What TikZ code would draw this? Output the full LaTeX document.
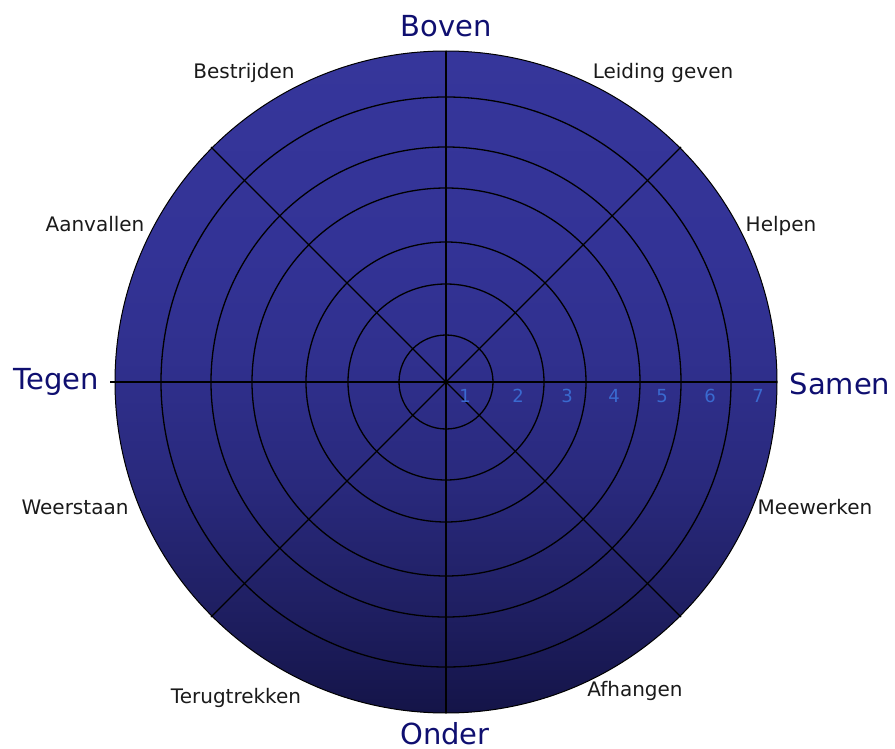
\documentclass[tikz,border=0pt]{standalone}
\usepackage{fontspec}
\setmainfont{DejaVu Sans}
\usetikzlibrary{calc}
\definecolor{navy}{HTML}{0F0F70}
\definecolor{lbl}{HTML}{1A1A1A}
\definecolor{numc}{HTML}{3A6AD0}
\definecolor{c0}{HTML}{141448}
\definecolor{c1}{HTML}{1F1F62}
\definecolor{c2}{HTML}{29297C}
\definecolor{c3}{HTML}{30308E}
\definecolor{c4}{HTML}{333396}
\definecolor{c5}{HTML}{36369B}
\pgfdeclareverticalshading{discshade}{100bp}{color(0bp)=(c0); color(25bp)=(c0); color(33bp)=(c1); color(42bp)=(c2); color(52bp)=(c3); color(60bp)=(c4); color(75bp)=(c5); color(100bp)=(c5)}
\tikzset{
  axislbl/.style={font=\fontsize{29}{34}\selectfont, text=navy, anchor=base, inner sep=0pt},
  sublbl/.style={font=\fontsize{20}{24}\selectfont, text=lbl, anchor=base, inner sep=0pt},
  numlbl/.style={font=\fontsize{18}{22}\selectfont, text=numc, anchor=base, inner sep=0pt},
  ring/.style={draw=black, line width=1.3pt},
  spoke/.style={draw=black, line width=1.2pt},
}
\begin{document}
\begin{tikzpicture}[x=1pt,y=-1pt]
\useasboundingbox (0,0) rectangle (895,749);
\coordinate (O) at (446,382);
\shade[shading=discshade] (O) circle[radius=331pt];
\foreach \r in {47,98,140,194,235,285}{
  \draw[ring] (O) circle[radius=\r pt];
}
\draw[black, line width=1pt] (O) circle[radius=331pt];
% spokes
\coordinate (L) at (110,382);
\coordinate (R) at (777,382);
\coordinate (T) at (446,51);
\coordinate (B) at (446,713);
\coordinate (NW) at ($(O)+(-235,-235)$);
\coordinate (NE) at ($(O)+(235,-235)$);
\coordinate (SW) at ($(O)+(-235,235)$);
\coordinate (SE) at ($(O)+(235,235)$);
\draw[spoke] (L) -- (R);
\draw[spoke] (T) -- (B);
\draw[spoke] (NW) -- (SE);
\draw[spoke] (NE) -- (SW);
% numbers
\node[numlbl] (n1) at (465,402) {1};
\node[numlbl] (n2) at (518,402) {2};
\node[numlbl] (n3) at (567,402) {3};
\node[numlbl] (n4) at (614,402) {4};
\node[numlbl] (n5) at (662,402) {5};
\node[numlbl] (n6) at (710,402) {6};
\node[numlbl] (n7) at (758,402) {7};
% axis labels
\node[axislbl] (boven) at (446,37) {Boven};
\node[axislbl] (tegen) at (56,389) {Tegen};
\node[axislbl] (samen) at (840,394) {Samen};
\node[axislbl] (onder) at (445,744) {Onder};
% sub labels
\node[sublbl] (bestrijden) at (244,79) {Bestrijden};
\node[sublbl] (leiding) at (663,79) {Leiding geven};
\node[sublbl] (aanvallen) at (95,232) {Aanvallen};
\node[sublbl] (helpen) at (781,232) {Helpen};
\node[sublbl] (weerstaan) at (75,514) {Weerstaan};
\node[sublbl] (meewerken) at (815,514) {Meewerken};
\node[sublbl] (terug) at (236,703) {Terugtrekken};
\node[sublbl] (afhangen) at (635,696) {Afhangen};
\end{tikzpicture}
\end{document}
